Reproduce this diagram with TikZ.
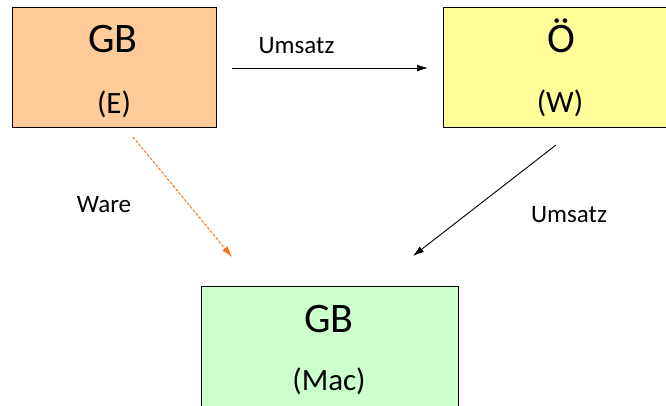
\documentclass[tikz,border=0pt]{standalone}
\usepackage{fontspec}
\setmainfont{Carlito}
\usetikzlibrary{arrows.meta}
\definecolor{peach}{HTML}{FFCC99}
\definecolor{lightyellow}{HTML}{FFFF99}
\definecolor{lightgreen}{HTML}{CCFFCC}
\definecolor{arroworange}{HTML}{FF6E1A}
\begin{document}
\begin{tikzpicture}[x=1pt,y=-1pt,
  box/.style={draw=black,line width=0.9pt,inner sep=0pt},
  big/.style={anchor=base,inner sep=0pt,font=\fontsize{42}{46}\selectfont},
  sub/.style={anchor=base,inner sep=0pt,font=\fontsize{31}{35}\selectfont},
  lab/.style={anchor=base,inner sep=0pt,font=\fontsize{25}{29}\selectfont},
  conn/.style={line width=0.9pt,-{Latex[length=11pt,width=7pt]}}]
\useasboundingbox (0,0) rectangle (666,405);
\clip (0,0) rectangle (666,405);
\fill[white] (0,0) rectangle (666,405);
% boxes
\node[box,fill=peach,minimum width=204pt,minimum height=120pt] (E) at (114,67) {};
\node[box,fill=lightyellow,minimum width=234pt,minimum height=120pt] (W) at (560,67) {};
\node[box,fill=lightgreen,minimum width=257pt,minimum height=140pt] (M) at (329.5,356) {};
% texts
\node[big] (Et) at (113,52) {GB};
\node[sub] (Es) at (114,113) {(E)};
\node[big] (Wt) at (561,52) {Ö};
\node[sub] (Ws) at (560,112) {(W)};
\node[big] (Mt) at (329,332) {GB};
\node[sub] (Ms) at (329,390) {(Mac)};
% connector ends
\coordinate (a1s) at (232,68);
\coordinate (a1e) at (428,68);
\coordinate (a2s) at (556,145);
\coordinate (a2e) at (413,256);
\coordinate (a3s) at (133,137);
\coordinate (a3e) at (232,257);
\draw[conn] (a1s) -- (a1e);
\draw[conn] (a2s) -- (a2e);
\draw[conn,line width=1pt,draw=arroworange,fill=arroworange,dash pattern=on 2.5pt off 2pt] (a3s) -- (a3e);
% labels
\node[lab] (l1) at (296.5,53) {Umsatz};
\node[lab] (l2) at (104,212) {Ware};
\node[lab] (l3) at (569,222) {Umsatz};
\end{tikzpicture}
\end{document}
